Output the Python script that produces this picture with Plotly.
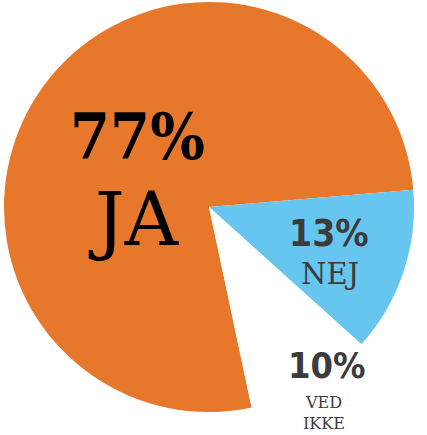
import plotly.graph_objects as go

labels = ["JA", "NEJ", "VED IKKE"]
values = [77, 13, 10]
colors = ["#E7772A", "#66C6EF", "#FFFFFF"]

W, H = 427, 435

fig = go.Figure()
fig.add_trace(go.Pie(
    labels=labels,
    values=values,
    sort=False,
    direction="clockwise",
    rotation=168,
    marker=dict(colors=colors, line=dict(width=0)),
    textinfo="none",
    hoverinfo="label+percent",
    showlegend=False,
    domain=dict(x=[4 / W, 414 / W], y=[1 - 412 / H, 1 - 2 / H]),
))

def px(x, y):
    return x / W, 1 - y / H

big_font = "DejaVu Serif Condensed, DejaVu Serif, serif"
num_font = "DejaVu Sans Condensed, DejaVu Sans, sans-serif"
serif_font = "DejaVu Serif, Liberation Serif, serif"

# positions for labels (pixels)
pct_pos = [(137, 136), (329, 233), (327, 365)]
pct_size = [64, 37, 36]
pct_family = [big_font, num_font, num_font]
pct_color = ["#000000", "#3B3B3D", "#3B3B3D"]
lab_pos = [(134, 219), (330, 274)]
lab_size = [74, 29]

anns = []
for i, v in enumerate(values):
    x, y = px(*pct_pos[i])
    anns.append(dict(x=x, y=y, xref="paper", yref="paper", text=f"{v}%",
                     showarrow=False, xanchor="center", yanchor="middle",
                     font=dict(family=pct_family[i], size=pct_size[i], color=pct_color[i],
                               weight="bold")))
for i in range(2):
    x, y = px(*lab_pos[i])
    anns.append(dict(x=x, y=y, xref="paper", yref="paper", text=labels[i],
                     showarrow=False, xanchor="center", yanchor="middle",
                     font=dict(family=serif_font, size=lab_size[i],
                               color="#000000" if i == 0 else "#3B3B3D")))
x, y = px(324, 391)
anns.append(dict(x=x, y=y, xref="paper", yref="paper",
                 text=labels[2].replace(" ", "<br>"),
                 showarrow=False, xanchor="center", yanchor="top",
                 font=dict(family=serif_font, size=16, color="#3B3B3D")))

fig.update_layout(
    width=W, height=H,
    margin=dict(l=0, r=0, t=0, b=0),
    paper_bgcolor="white",
    plot_bgcolor="white",
    annotations=anns,
)

fig.write_html("out.html")
